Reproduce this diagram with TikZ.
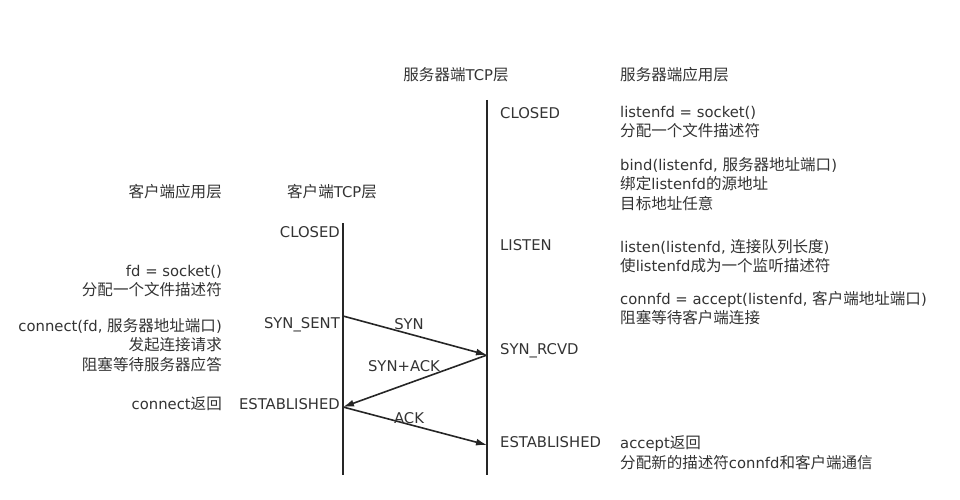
\documentclass[tikz,border=0pt]{standalone}
\usepackage{fontspec}
\setmainfont{DejaVu Sans}
\newfontfamily\zh[Scale=1.05]{Noto Sans CJK SC}
\usetikzlibrary{arrows.meta, positioning}

\begin{document}
\begin{tikzpicture}[x=1pt, y=-1pt, >={Latex[length=11pt,width=7pt]},
    txt/.style={inner sep=0pt, text=black!80, font=\fontsize{14.8}{19.5}\selectfont},
    lifeline/.style={line width=2pt, black!85},
    msg/.style={->, line width=1.6pt, black!85}]
    \useasboundingbox (0,0) rectangle (960,500);

    % 标题
    \node[txt] (srvtcp) at (456,75) {{\zh 服务器端}TCP{\zh 层}};
    \node[txt, anchor=west] (srvapp) at (620,75) {\zh 服务器端应用层};
    \node[txt, anchor=east] (cliapp) at (222,192) {\zh 客户端应用层};
    \node[txt] (clitcp) at (332,192) {{\zh 客户端}TCP{\zh 层}};

    % 时间线
    \coordinate (ctop) at (343,223);
    \coordinate (cbot) at (343,475);
    \coordinate (stop) at (487,100);
    \coordinate (sbot) at (487,475);
    \draw[lifeline] (ctop) -- (cbot);
    \draw[lifeline] (stop) -- (sbot);

    % 服务器端状态
    \node[txt, anchor=west] (sclosed) at (500,113) {CLOSED};
    \node[txt, anchor=west] (slisten) at (500,245) {LISTEN};
    \node[txt, anchor=west] (srcvd) at (500,351) {SYN\_RCVD};
    \node[txt, anchor=west] (sest) at (500,442) {ESTABLISHED};

    % 服务器端应用层
    \node[txt, anchor=west, align=left] (ssocket) at (620,122)
        {listenfd = socket()\\{\zh 分配一个文件描述符}};
    \node[txt, anchor=west, align=left] (sbind) at (620,184)
        {bind(listenfd, {\zh 服务器地址端口})\\{\zh 绑定}listenfd{\zh 的源地址}\\{\zh 目标地址任意}};
    \node[txt, anchor=west, align=left] (slistenfn) at (620,256)
        {listen(listenfd, {\zh 连接队列长度})\\{\zh 使}listenfd{\zh 成为一个监听描述符}};
    \node[txt, anchor=west, align=left] (saccept) at (620,308)
        {connfd = accept(listenfd, {\zh 客户端地址端口})\\{\zh 阻塞等待客户端连接}};
    \node[txt, anchor=west, align=left] (sret) at (620,453)
        {accept{\zh 返回}\\{\zh 分配新的描述符}connfd{\zh 和客户端通信}};

    % 客户端状态
    \node[txt, anchor=east] (cclosed) at (340,232) {CLOSED};
    \node[txt, anchor=east] (csent) at (340,325) {SYN\_SENT};
    \node[txt, anchor=east] (cest) at (340,404) {ESTABLISHED};

    % 客户端应用层
    \node[txt, anchor=east, align=right] (csocket) at (222,281)
        {fd = socket()\\{\zh 分配一个文件描述符}};
    \node[txt, anchor=east, align=right] (cconnect) at (222,345)
        {connect(fd, {\zh 服务器地址端口})\\{\zh 发起连接请求}\\{\zh 阻塞等待服务器应答}};
    \node[txt, anchor=east] (cret) at (222,404) {connect{\zh 返回}};

    % 三次握手
    \coordinate (synA) at (343,316);
    \coordinate (synB) at (487,355);
    \coordinate (ackA) at (343,407);
    \coordinate (ackB) at (487,445);
    \draw[msg] (synA) -- (synB);
    \draw[msg] (synB) -- (ackA);
    \draw[msg] (ackA) -- (ackB);
    \node[txt] (synlbl) at (409,324) {SYN};
    \node[txt] (synacklbl) at (404,366) {SYN+ACK};
    \node[txt] (acklbl) at (409,418) {ACK};
\end{tikzpicture}
\end{document}
